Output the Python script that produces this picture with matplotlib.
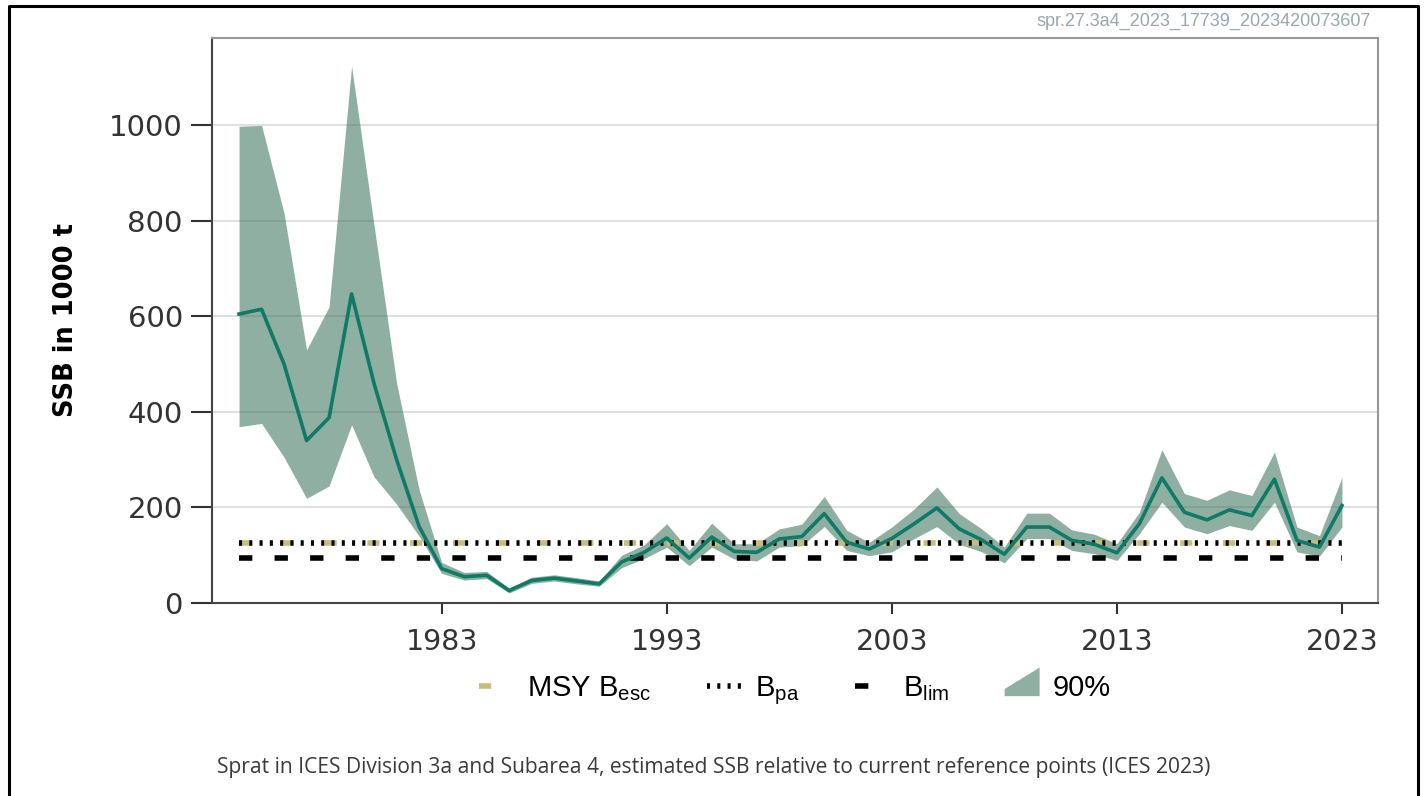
import matplotlib
matplotlib.use('Agg')
import matplotlib.pyplot as plt
import matplotlib.patches as mpatches
from matplotlib.lines import Line2D
from matplotlib.legend_handler import HandlerPatch

# SSB estimates (1000 t) with 90% interval
years = list(range(1974, 2024))
ssb = [605, 615, 500, 340, 388, 647, 459, 300, 160, 72,
       55, 58, 26, 47, 52, 46, 40, 86, 106, 136,
       94, 138, 108, 106, 134, 139, 187, 127, 113, 135,
       166, 199, 155, 132, 102, 159, 159, 131, 123, 105,
       166, 262, 190, 174, 195, 183, 259, 131, 117, 204]
ssb_low = [369, 376, 305, 219, 245, 373, 264, 207, 140, 62,
           48, 51, 21, 41, 46, 40, 35, 74, 93, 117,
           78, 117, 92, 88, 117, 120, 160, 110, 99, 107,
           135, 160, 123, 107, 84, 135, 135, 110, 103, 89,
           145, 211, 159, 145, 162, 152, 211, 107, 98, 159]
ssb_high = [998, 1000, 816, 530, 620, 1124, 790, 460, 237, 85,
            64, 66, 31, 54, 59, 53, 46, 100, 122, 166,
            110, 167, 124, 124, 155, 165, 223, 152, 127, 159,
            197, 243, 187, 155, 117, 188, 188, 153, 144, 124,
            190, 321, 229, 215, 237, 225, 316, 159, 141, 263]

msy_besc = 125
bpa = 125
blim = 94

xticks = [1983, 1993, 2003, 2013, 2023]
yticks = [0, 200, 400, 600, 800, 1000]

line_col = '#0f7a66'
band_col = '#1f6147'
khaki = '#c8bd74'

fig = plt.figure(figsize=(14.25, 7.96), dpi=100)
ax = fig.add_axes([0.1488, 0.2425, 0.8182, 0.7098])

ax.fill_between(years, ssb_low, ssb_high, color=band_col, alpha=0.5, lw=0, zorder=2)
ax.plot(years, ssb, color=line_col, lw=2.6, zorder=4)

# reference points; MSY Besc and Bpa coincide, khaki drawn under the black dots
ax.plot([years[0], years[-1]], [msy_besc, msy_besc], color=khaki, lw=4.0,
        dashes=(2.2, 5.5), zorder=3)
ax.plot([years[0], years[-1]], [bpa, bpa], color='black', lw=4.0,
        dashes=(0.55, 1.3), zorder=3)
ax.plot([years[0], years[-1]], [blim, blim], color='black', lw=4.0,
        dashes=(2.4, 4.0), zorder=3)

ax.set_xlim(1972.8, 2024.6)
ax.set_ylim(0, 1183)
ax.set_xticks(xticks)
ax.set_yticks(yticks)
ax.tick_params(axis='y', length=15, width=1.5, color='#333333', labelcolor='#333333',
               labelsize=21, pad=6)
ax.tick_params(axis='x', length=8, width=1.5, color='#333333', labelcolor='#333333',
               labelsize=20.5, pad=10)
for y in yticks[1:]:
    ax.axhline(y, color='#dddddd', lw=1.3, zorder=1)

ax.spines['left'].set_color('#444444')
ax.spines['bottom'].set_color('#444444')
ax.spines['top'].set_color('#999999')
ax.spines['right'].set_color('#999999')
for s in ax.spines.values():
    s.set_linewidth(1.5)

ax.set_ylabel('SSB in 1000 t', fontsize=18.5, fontweight='bold', labelpad=22)


def make_wedge(legend, orig_handle, xdescent, ydescent, width, height, fontsize):
    return mpatches.Polygon([[-xdescent, -ydescent], [width - xdescent, -ydescent],
                             [width - xdescent, height * 1.4 - ydescent],
                             [-xdescent, 0.35 * height - ydescent]], closed=True)


handles = [
    Line2D([], [], color=khaki, lw=4.0, dashes=(2.2, 5.5)),
    Line2D([], [], color='black', lw=4.0, dashes=(0.55, 1.3)),
    Line2D([], [], color='black', lw=4.0, dashes=(2.4, 4.0)),
    mpatches.Patch(color=band_col, alpha=0.5, lw=0),
]
labels = ['MSY B$_{\\mathrm{esc}}$', 'B$_{\\mathrm{pa}}$', 'B$_{\\mathrm{lim}}$', '90%']
plt.rcParams['mathtext.fontset'] = 'custom'
plt.rcParams['mathtext.rm'] = 'Liberation Sans'
ax.legend(handles, labels, loc='center', bbox_to_anchor=(0.5, -0.155), ncol=4,
          frameon=False, handlelength=1.2, columnspacing=1.9, handletextpad=0.45,
          prop={'family': 'Liberation Sans', 'size': 21},
          handler_map={mpatches.Patch: HandlerPatch(patch_func=make_wedge)})

fig.text(0.962, 0.973, 'spr.27.3a4_2023_17739_2023420073607', ha='right', va='center',
         fontsize=13, color='#9aa6b2', family='Liberation Sans')
fig.text(0.501, 0.036, 'Sprat in ICES Division 3a and Subarea 4, estimated SSB relative '
         'to current reference points (ICES 2023)', ha='center', va='center',
         fontsize=15.1, color='#3a3a3a', family='Open Sans')

# outer frame (no bottom edge)
fig.add_artist(Line2D([0.0065, 0.0065, 0.9951, 0.9951], [0.0, 0.993, 0.993, 0.0],
                      transform=fig.transFigure, color='black', lw=2.2))

fig.savefig('out.png', dpi=100)
plt.close(fig)
